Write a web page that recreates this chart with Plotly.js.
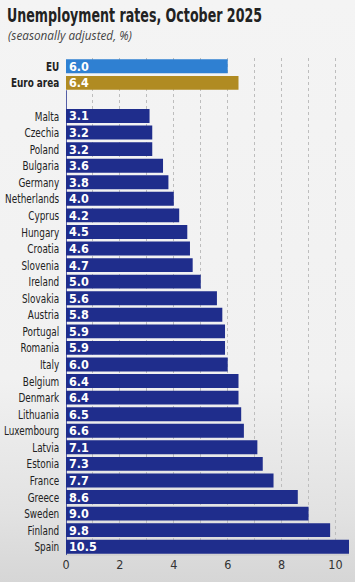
<!DOCTYPE html>
<html>
<head>
<meta charset="utf-8">
<script src="https://cdn.plot.ly/plotly-3.0.1.min.js"></script>
<style>
html,body{margin:0;padding:0;width:355px;height:582px;overflow:hidden;
background:linear-gradient(to bottom,#f4f4f4 0%,#f1f1f1 65%,#e2e2e2 88%,#d6d6d6 100%);}
#chart{width:355px;height:582px;}
</style>
</head>
<body>
<div id="chart"></div>
<script>
const aggregates = ["EU", "Euro area"];
const aggregateValues = [6.0, 6.4];
const countries = ["Malta","Czechia","Poland","Bulgaria","Germany","Netherlands","Cyprus","Hungary","Croatia","Slovenia","Ireland","Slovakia","Austria","Portugal","Romania","Italy","Belgium","Denmark","Lithuania","Luxembourg","Latvia","Estonia","France","Greece","Sweden","Finland","Spain"];
const countryValues = [3.1,3.2,3.2,3.6,3.8,4.0,4.2,4.5,4.6,4.7,5.0,5.6,5.8,5.9,5.9,6.0,6.4,6.4,6.5,6.6,7.1,7.3,7.7,8.6,9.0,9.8,10.5];
const xTicks = [0,2,4,6,8,10];

const FONT = '"DejaVu Sans Condensed","Liberation Sans",sans-serif';

const aggPos = aggregates.map((_, i) => i);
const ctyPos = countries.map((_, i) => i + 3);

const textFont = {family: FONT, size: 12.5, color: '#ffffff', weight: 'bold'};

function barTrace(x, y, color) {
  return {
    type: 'bar', orientation: 'h',
    x: x, y: y,
    marker: {color: color},
    width: 0.84,
    text: x.map(v => v.toFixed(1)),
    textposition: 'inside', insidetextanchor: 'start', constraintext: 'none',
    textfont: textFont, hoverinfo: 'skip'
  };
}

const traces = [
  barTrace([aggregateValues[0]], [aggPos[0]], '#2f80d2'),
  barTrace([aggregateValues[1]], [aggPos[1]], '#b08b22'),
  barTrace(countryValues, ctyPos, '#1f2d8c')
];

const tickvals = aggPos.concat(ctyPos);
const ticktext = aggregates.map(a => '<b>' + a + '</b>').concat(countries);

const layout = {
  width: 355, height: 582,
  margin: {l: 66, r: 6, t: 58, b: 27, pad: 0},
  paper_bgcolor: 'rgba(0,0,0,0)',
  plot_bgcolor: 'rgba(0,0,0,0)',
  showlegend: false,
  font: {family: FONT, color: '#222'},
  title: {
    text: '<b>Unemployment rates, October 2025</b>',
    font: {family: FONT, size: 19, color: '#222'},
    x: 7/355, xref: 'container', xanchor: 'left',
    y: 1 - 15/582, yref: 'container', yanchor: 'middle'
  },
  annotations: [{
    text: '<i>(seasonally adjusted, %)</i>',
    xref: 'paper', yref: 'paper',
    x: (6 - 66) / 283, y: 1 + (58 - 36) / 497,
    xanchor: 'left', yanchor: 'middle', showarrow: false,
    font: {family: '"Open Sans","DejaVu Sans",sans-serif', size: 12, color: '#444'}
  }],
  xaxis: {
    range: [0, 10.5], fixedrange: true,
    tickvals: xTicks, ticktext: xTicks.map(String),
    tickfont: {family: FONT, size: 12.5, color: '#333'},
    ticks: '', ticklen: 0,
    showgrid: true, gridcolor: '#bdbdbd', griddash: 'dot', gridwidth: 1,
    minor: {dtick: 1, tick0: 0, showgrid: true, gridcolor: '#bdbdbd', griddash: 'dot', gridwidth: 1},
    zeroline: false, showline: false
  },
  yaxis: {
    range: [29.5, -0.5], fixedrange: true,
    tickvals: tickvals, ticktext: ticktext,
    tickfont: {family: FONT, size: 13, color: '#222'},
    ticks: '', ticklen: 0, ticklabelstandoff: 6,
    showgrid: false, zeroline: false, showline: false
  },
  shapes: [{
    type: 'line', xref: 'x', yref: 'y',
    x0: 0, x1: 0, y0: 1.45, y1: 29.5,
    line: {color: '#1f2d8c', width: 1.5}, layer: 'above'
  }, {
    type: 'line', xref: 'paper', yref: 'paper',
    x0: 0, x1: 1, y0: 0, y1: 0,
    line: {color: '#c9c9c9', width: 1}, layer: 'below'
  }]
};

function condense(el, ox, sx) {
  if (!el) return;
  const prev = el.getAttribute('transform') || '';
  el.setAttribute('transform', 'translate(' + ox + ',0) scale(' + sx + ',1) translate(' + (-ox) + ',0) ' + prev);
}

Plotly.newPlot('chart', traces, layout, {displayModeBar: false, staticPlot: true}).then(gd => {
  // narrow the type to match the condensed face of the original
  condense(gd.querySelector('g.g-gtitle'), 7, 0.74);
  condense(gd.querySelector('g.yaxislayer-above'), 60, 0.76);
  condense(gd.querySelector('g.annotation'), 6, 0.98);
});
</script>
</body>
</html>
